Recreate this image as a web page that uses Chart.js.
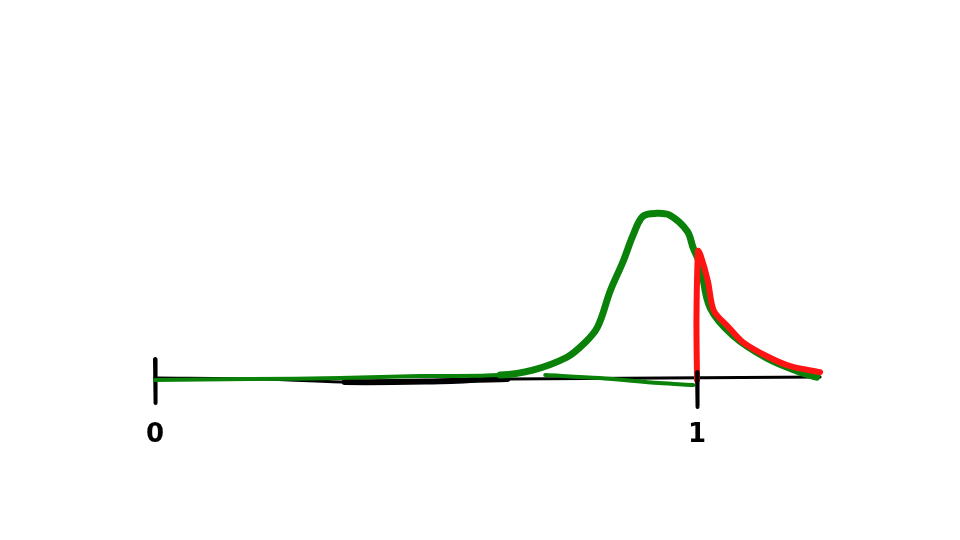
<!DOCTYPE html>
<html>
<head>
<meta charset="utf-8">
<script src="https://cdn.jsdelivr.net/npm/chart.js@4.4.1/dist/chart.umd.min.js"></script>
<style>
  html, body { margin: 0; padding: 0; background: #fff; }
  #wrap { width: 960px; height: 540px; }
</style>
</head>
<body>
<div id="wrap"><canvas id="chart" width="960" height="540"></canvas></div>
<script>
// axis tick positions and labels
const tickValues = [0, 1];
const tickLabels = ['0', '1'];

// black axis line
const axisX = [0, 0.2, 0.35, 0.5, 0.65, 1.227];
const axisY = [0, -0.01, -0.04, -0.035, -0.01, 0.01];

// tick marks
const tick0X = [0, 0.001];
const tick0Y = [0.19, -0.25];
const tick1X = [1, 1.001];
const tick1Y = [0.06, -0.29];

// green curve (hump, then tail under the red one)
const greenX = [0, 0.175, 0.341, 0.489, 0.637, 0.697, 0.76, 0.79, 0.816, 0.84, 0.864, 0.882, 0.9, 0.926, 0.95, 0.982, 0.993, 1.006, 1.024, 1.066, 1.129, 1.19, 1.221];
const greenY = [-0.02, -0.01, 0.0, 0.02, 0.03, 0.08, 0.21, 0.34, 0.51, 0.88, 1.18, 1.44, 1.63, 1.66, 1.64, 1.48, 1.31, 1.14, 0.71, 0.43, 0.2, 0.06, 0.01];

// green lower return stroke
const greenLowX = [0.72, 0.82, 0.93, 0.993];
const greenLowY = [0.03, 0.0, -0.05, -0.07];

// red curve (vertical rise, then decaying tail)
const redX = [1.0, 0.999, 1.002, 1.007, 1.02, 1.031, 1.057, 1.085, 1.129, 1.172, 1.227];
const redY = [-0.02, 0.6, 1.28, 1.23, 0.98, 0.68, 0.52, 0.36, 0.22, 0.12, 0.06];

const pts = (xs, ys) => xs.map((x, i) => ({ x: x, y: ys[i] }));

// first dataset is drawn on top
new Chart(document.getElementById('chart'), {
  type: 'line',
  data: {
    datasets: [
      { data: pts(tick1X, tick1Y), borderColor: '#000', borderWidth: 4 },
      { data: pts(redX, redY), borderColor: '#ff1414', borderWidth: 6, tension: 0.3 },
      {
        data: pts(greenX, greenY), borderColor: '#0a820a', tension: 0.35,
        segment: { borderWidth: (c) => c.p1DataIndex <= 4 ? 4 : 7 }
      },
      { data: pts(greenLowX, greenLowY), borderColor: '#0a820a', borderWidth: 4, tension: 0.3 },
      {
        data: pts(axisX, axisY), borderColor: '#000', tension: 0.3,
        segment: { borderWidth: (c) => (c.p0DataIndex === 2 || c.p0DataIndex === 3) ? 6 : 3 }
      },
      { data: pts(tick0X, tick0Y), borderColor: '#000', borderWidth: 4 }
    ]
  },
  options: {
    responsive: false,
    animation: false,
    events: [],
    layout: { padding: { top: 0, bottom: 86, left: 0, right: 0 } },
    elements: {
      point: { radius: 0 },
      line: { borderCapStyle: 'round', borderJoinStyle: 'round', fill: false }
    },
    plugins: { legend: { display: false }, tooltip: { enabled: false } },
    scales: {
      x: {
        type: 'linear',
        min: -0.286,
        max: 1.4852,
        grid: { display: false, drawTicks: false },
        border: { display: false },
        afterBuildTicks: (s) => { s.ticks = tickValues.map(v => ({ value: v })); },
        ticks: {
          padding: 3,
          color: '#000',
          font: { family: 'DejaVu Sans', size: 26, weight: 'bold' },
          callback: (v) => tickLabels[tickValues.indexOf(v)]
        }
      },
      y: {
        type: 'linear',
        display: false,
        min: -0.39,
        max: 3.81
      }
    }
  }
});
</script>
</body>
</html>
